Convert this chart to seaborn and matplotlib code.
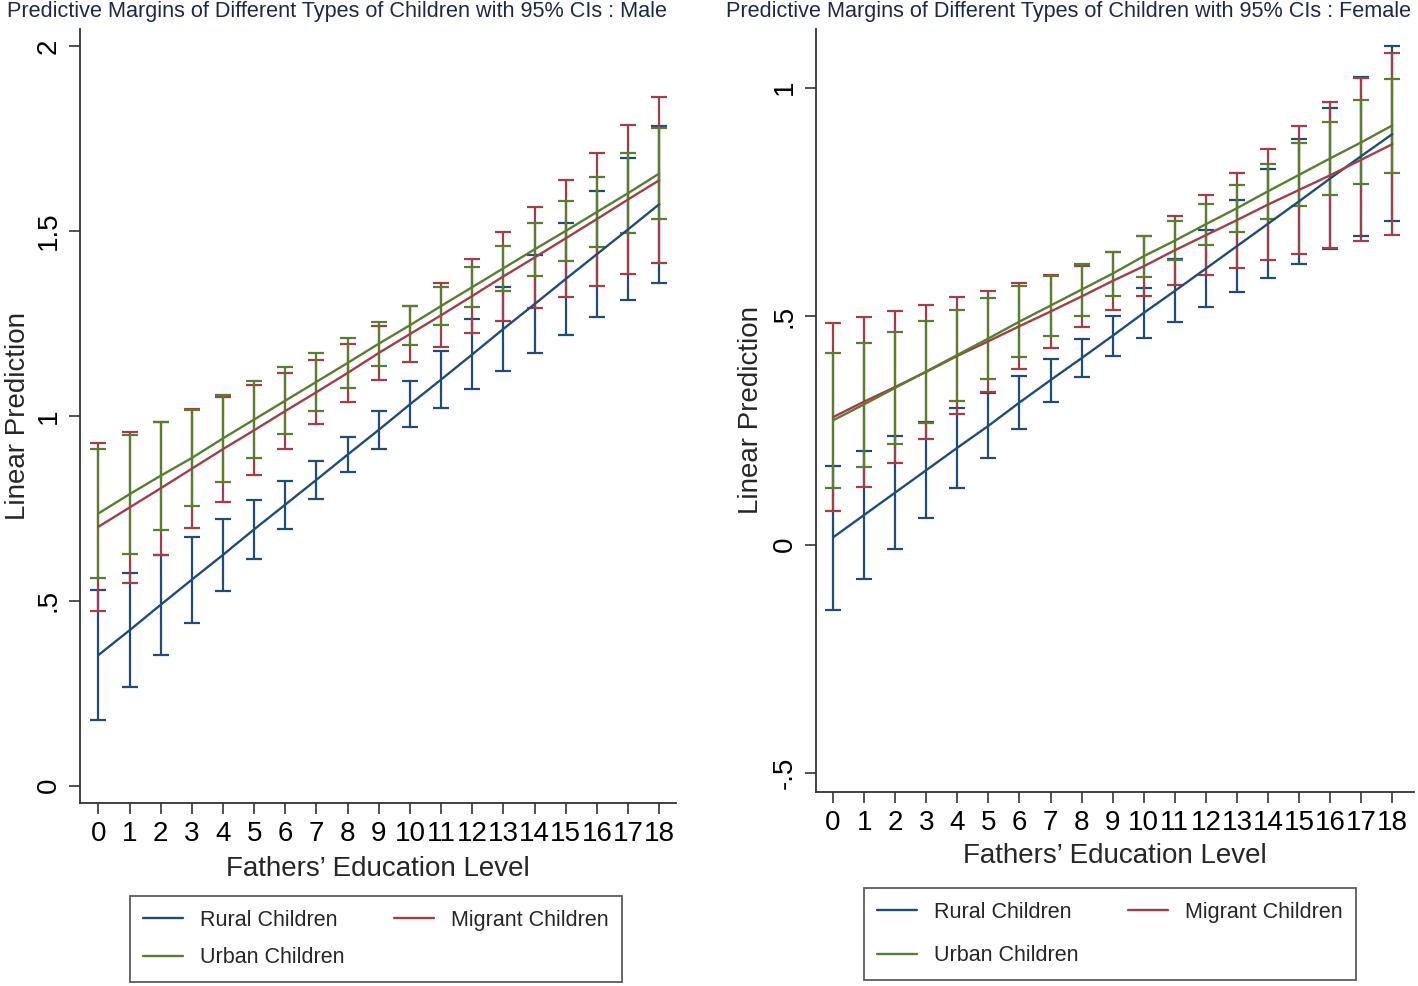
import pandas as pd
import matplotlib
matplotlib.use("Agg")
import matplotlib.pyplot as plt
from matplotlib.lines import Line2D
import seaborn as sns

# estilo tipo Stata
sns.set_style("ticks")
plt.rcParams["font.family"] = ["Liberation Sans", "DejaVu Sans"]

# ===============================
# Datos
# ===============================

educ = list(range(19))
educ_labels = [str(v) for v in educ]

grupos = ["Rural Children", "Migrant Children", "Urban Children"]
colores = {"Rural Children": "#1f4d78",
           "Migrant Children": "#a23e48",
           "Urban Children": "#587f2f"}

# --- Male ---
male_rural = [0.353, 0.420, 0.489, 0.557, 0.624, 0.693, 0.760, 0.827, 0.895, 0.962,
              1.031, 1.098, 1.166, 1.235, 1.302, 1.370, 1.437, 1.504, 1.572]
male_rural_lo = [0.178, 0.267, 0.353, 0.441, 0.526, 0.613, 0.695, 0.775, 0.847, 0.911,
                 0.969, 1.022, 1.072, 1.121, 1.169, 1.218, 1.266, 1.312, 1.360]
male_rural_hi = [0.529, 0.576, 0.624, 0.673, 0.722, 0.773, 0.825, 0.879, 0.943, 1.013,
                 1.093, 1.175, 1.261, 1.348, 1.434, 1.522, 1.609, 1.696, 1.784]

male_migrant = [0.700, 0.752, 0.804, 0.857, 0.910, 0.961, 1.013, 1.064, 1.116, 1.170,
                1.221, 1.272, 1.324, 1.377, 1.428, 1.480, 1.532, 1.585, 1.637]
male_migrant_lo = [0.473, 0.548, 0.624, 0.696, 0.768, 0.840, 0.911, 0.977, 1.038, 1.097,
                   1.145, 1.186, 1.223, 1.257, 1.291, 1.322, 1.352, 1.384, 1.413]
male_migrant_hi = [0.926, 0.956, 0.984, 1.018, 1.052, 1.082, 1.115, 1.151, 1.194, 1.243,
                   1.297, 1.359, 1.425, 1.496, 1.566, 1.638, 1.712, 1.787, 1.862]

male_urban = [0.736, 0.788, 0.838, 0.886, 0.939, 0.990, 1.041, 1.092, 1.143, 1.195,
              1.245, 1.297, 1.348, 1.399, 1.450, 1.500, 1.551, 1.602, 1.655]
male_urban_lo = [0.561, 0.627, 0.692, 0.756, 0.822, 0.885, 0.950, 1.013, 1.075, 1.136,
                 1.192, 1.245, 1.294, 1.337, 1.378, 1.418, 1.456, 1.494, 1.532]
male_urban_hi = [0.911, 0.948, 0.983, 1.016, 1.056, 1.094, 1.133, 1.171, 1.211, 1.253,
                 1.297, 1.348, 1.402, 1.460, 1.521, 1.582, 1.645, 1.710, 1.778]

# --- Female ---
female_rural = [0.016, 0.065, 0.114, 0.163, 0.212, 0.260, 0.311, 0.360, 0.408, 0.457,
                0.507, 0.555, 0.604, 0.653, 0.702, 0.751, 0.801, 0.850, 0.898]
female_rural_lo = [-0.142, -0.075, -0.009, 0.058, 0.124, 0.189, 0.253, 0.313, 0.367, 0.412,
                   0.452, 0.486, 0.520, 0.552, 0.583, 0.614, 0.647, 0.676, 0.707]
female_rural_hi = [0.173, 0.206, 0.237, 0.268, 0.300, 0.332, 0.368, 0.406, 0.450, 0.501,
                   0.561, 0.624, 0.689, 0.754, 0.822, 0.888, 0.955, 1.024, 1.090]

female_migrant = [0.279, 0.313, 0.345, 0.378, 0.413, 0.445, 0.478, 0.510, 0.543, 0.577,
                  0.609, 0.644, 0.677, 0.710, 0.744, 0.776, 0.808, 0.842, 0.876]
female_migrant_lo = [0.073, 0.126, 0.179, 0.232, 0.286, 0.335, 0.384, 0.431, 0.476, 0.514,
                     0.543, 0.569, 0.590, 0.605, 0.622, 0.636, 0.648, 0.664, 0.677]
female_migrant_hi = [0.485, 0.499, 0.512, 0.525, 0.541, 0.555, 0.572, 0.590, 0.610, 0.640,
                     0.676, 0.719, 0.765, 0.814, 0.865, 0.916, 0.969, 1.020, 1.075]

female_urban = [0.272, 0.307, 0.343, 0.379, 0.415, 0.451, 0.488, 0.523, 0.558, 0.593,
                0.631, 0.665, 0.701, 0.736, 0.773, 0.809, 0.845, 0.880, 0.917]
female_urban_lo = [0.123, 0.171, 0.220, 0.267, 0.315, 0.362, 0.410, 0.457, 0.501, 0.545,
                   0.585, 0.623, 0.656, 0.685, 0.713, 0.740, 0.765, 0.789, 0.814]
female_urban_hi = [0.420, 0.442, 0.466, 0.490, 0.514, 0.539, 0.565, 0.588, 0.614, 0.641,
                   0.676, 0.707, 0.746, 0.787, 0.833, 0.878, 0.925, 0.972, 1.019]

male_yticks = [0, 0.5, 1, 1.5, 2]
male_ytick_labels = ["0", ".5", "1", "1.5", "2"]
female_yticks = [-0.5, 0, 0.5, 1]
female_ytick_labels = ["-.5", "0", ".5", "1"]


def tabla(rural, rural_lo, rural_hi, migr, migr_lo, migr_hi, urb, urb_lo, urb_hi):
    filas = []
    for g, m, lo, hi in [("Rural Children", rural, rural_lo, rural_hi),
                         ("Migrant Children", migr, migr_lo, migr_hi),
                         ("Urban Children", urb, urb_lo, urb_hi)]:
        filas.append(pd.DataFrame({"educ": educ, "margin": m, "lo": lo, "hi": hi, "grupo": g}))
    return pd.concat(filas, ignore_index=True)


df_male = tabla(male_rural, male_rural_lo, male_rural_hi,
                male_migrant, male_migrant_lo, male_migrant_hi,
                male_urban, male_urban_lo, male_urban_hi)
df_female = tabla(female_rural, female_rural_lo, female_rural_hi,
                  female_migrant, female_migrant_lo, female_migrant_hi,
                  female_urban, female_urban_lo, female_urban_hi)

# ===============================
# Figura
# ===============================

W, H = 1418, 986
fig = plt.figure(figsize=(W / 100, H / 100), dpi=100)
fig.patch.set_facecolor("white")


def px_axes(l, t, r, b):
    return fig.add_axes([l / W, 1 - b / H, (r - l) / W, (b - t) / H])


ax_m = px_axes(80, 29, 676, 803)
ax_f = px_axes(816, 29, 1414, 792)

# (eje, datos, xlim, ylim, yticks, etiquetas, titulo, x titulo, caja leyenda, espacio filas)
paneles = [
    (ax_m, df_male, (-0.59, 18.54), (-0.047, 2.046), male_yticks, male_ytick_labels,
     "Predictive Margins of Different Types of Children with 95% CIs : Male", 337,
     (121, 896, 631, 982), 0.78, -0.085, -0.104),
    (ax_f, df_female, (-0.55, 18.7), (-0.541, 1.128), female_yticks, female_ytick_labels,
     "Predictive Margins of Different Types of Children with 95% CIs : Female", 1069,
     (855, 884, 1365, 984), 1.05, -0.084, -0.108),
]

for ax, df, xlim, ylim, yt, ytl, titulo, tx, caja, lsp, xl_y, yl_x in paneles:
    # intervalos de confianza
    for g in grupos:
        d = df[df["grupo"] == g]
        ax.errorbar(d["educ"], d["margin"],
                    yerr=[d["margin"] - d["lo"], d["hi"] - d["margin"]],
                    fmt="none", ecolor=colores[g], elinewidth=1.6,
                    capsize=5.5, capthick=1.6, zorder=2)

    # lineas de prediccion
    sns.lineplot(data=df, x="educ", y="margin", hue="grupo", hue_order=grupos,
                 palette=colores, linewidth=1.7, errorbar=None, legend=False,
                 ax=ax, zorder=3)

    ax.set_xlim(*xlim)
    ax.set_ylim(*ylim)
    ax.set_xticks(educ)
    ax.set_xticklabels(educ_labels)
    ax.set_yticks(yt)
    ax.set_yticklabels(ytl, rotation=90, va="center")

    for s in ["top", "right"]:
        ax.spines[s].set_visible(False)
    for s in ["left", "bottom"]:
        ax.spines[s].set_color("#333333")
        ax.spines[s].set_linewidth(1.3)

    ax.tick_params(axis="both", direction="out", length=8, width=1.2,
                   color="#333333", labelsize=20, labelcolor="black")
    ax.tick_params(axis="x", pad=5)
    ax.tick_params(axis="y", pad=5)

    ax.set_xlabel("Fathers\u2019 Education Level", fontsize=20, va="center")
    ax.xaxis.set_label_coords(0.5, xl_y)
    ax.set_ylabel("Linear Prediction", fontsize=20, va="center")
    ax.yaxis.set_label_coords(yl_x, 0.5)

    fig.text(tx / W, 1 - 12 / H, titulo, ha="center", va="center",
             fontsize=15.6, color="#1c2a48")

    # leyenda
    orden = ["Rural Children", "Urban Children", "Migrant Children"]
    handles = [Line2D([0], [0], color=colores[g], linewidth=1.7) for g in orden]
    l, t, r, b = caja
    leg = ax.legend(handles, orden, ncol=2, loc="center",
                    bbox_to_anchor=((l + r) / 2 / W, 1 - (t + b) / 2 / H),
                    bbox_transform=fig.transFigure,
                    fontsize=15.5, frameon=True, fancybox=False,
                    handlelength=1.85, handletextpad=0.8, columnspacing=2.3,
                    labelspacing=lsp, borderpad=0.62, borderaxespad=0)
    leg.get_frame().set_edgecolor("#333333")
    leg.get_frame().set_linewidth(1.3)

plt.savefig("out.png", dpi=100, facecolor="white")
